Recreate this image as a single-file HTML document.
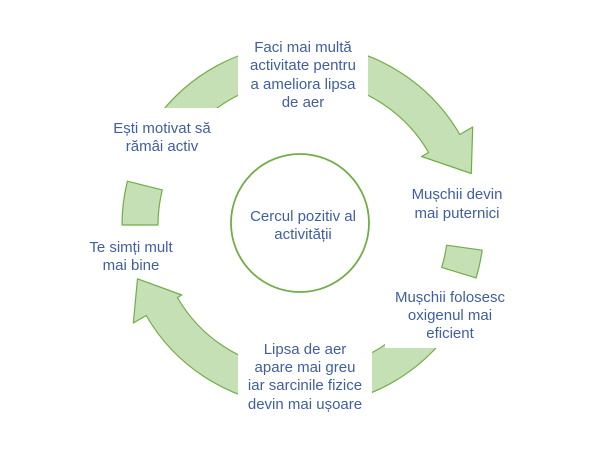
<!DOCTYPE html>
<html><head><meta charset="utf-8"><style>
html,body{margin:0;padding:0;background:#fff;width:600px;height:460px;overflow:hidden}
svg{position:absolute;left:0;top:0}
text{font-family:"Liberation Sans",sans-serif;font-size:15px;fill:#3f5f9f;text-anchor:middle}
</style></head><body>
<svg width="600" height="460" viewBox="0 0 600 460">
<g fill="#c5e0b4" stroke="#70ad47" stroke-width="1.2" stroke-linejoin="round">
<path id="top"/><path id="bot"/><path id="lft"/><path id="rgt"/>
</g>
<g fill="#fff">
<rect x="238" y="30" width="130" height="82"/>
<rect x="238" y="338" width="134" height="80"/>
<rect x="385" y="285" width="130" height="63"/>
<rect x="95" y="108" width="135" height="52"/>
</g>
<circle cx="300" cy="223" r="69" fill="#fff" stroke="#70ad47" stroke-width="1.8"/>
<text x="303" y="52">Faci mai multă</text>
<text x="303" y="70">activitate pentru</text>
<text x="303" y="89">a ameliora lipsa</text>
<text x="303" y="107">de aer</text>
<text x="162" y="133">Ești motivat să</text>
<text x="162" y="151">rămâi activ</text>
<text x="457" y="199">Mușchii devin</text>
<text x="457" y="218">mai puternici</text>
<text x="303" y="221">Cercul pozitiv al</text>
<text x="303" y="239">activității</text>
<text x="131" y="252">Te simți mult</text>
<text x="131" y="270">mai bine</text>
<text x="450" y="302">Mușchii folosesc</text>
<text x="450" y="320">oxigenul mai</text>
<text x="450" y="338">eficient</text>
<text x="305" y="354">Lipsa de aer</text>
<text x="305" y="372">apare mai greu</text>
<text x="305" y="390">iar sarcinile fizice</text>
<text x="305" y="409">devin mai ușoare</text>
</svg>
<script>
var cx=303,cy=225,Ri=145,Ro=181;
function P(a,r){a=a*Math.PI/180;return (cx+r*Math.cos(a)).toFixed(1)+","+(cy+r*Math.sin(a)).toFixed(1);}
function band(a1,a2){var s=a2>a1?1:0;
return "M"+P(a1,Ro)+" A"+Ro+","+Ro+" 0 0 "+s+" "+P(a2,Ro)+" L"+P(a2,Ri)+" A"+Ri+","+Ri+" 0 0 "+(1-s)+" "+P(a1,Ri)+"Z";}
function arrow(a1,a2,ta,tr,wi,wo){var s=a2>a1?1:0;
return "M"+P(a1,Ro)+" A"+Ro+","+Ro+" 0 0 "+s+" "+P(a2,Ro)+" L"+P(a2,wo)+" L"+P(ta,tr)+" L"+P(a2,wi)+" L"+P(a2,Ri)+" A"+Ri+","+Ri+" 0 0 "+(1-s)+" "+P(a1,Ri)+"Z";}
document.getElementById("top").setAttribute("d",arrow(-145,-30,-17,176,137,196));
document.getElementById("bot").setAttribute("d",arrow(35,150,162,174,140,196));
document.getElementById("lft").setAttribute("d",band(180,194));
document.getElementById("rgt").setAttribute("d",band(8,17));
</script>
</body></html>
